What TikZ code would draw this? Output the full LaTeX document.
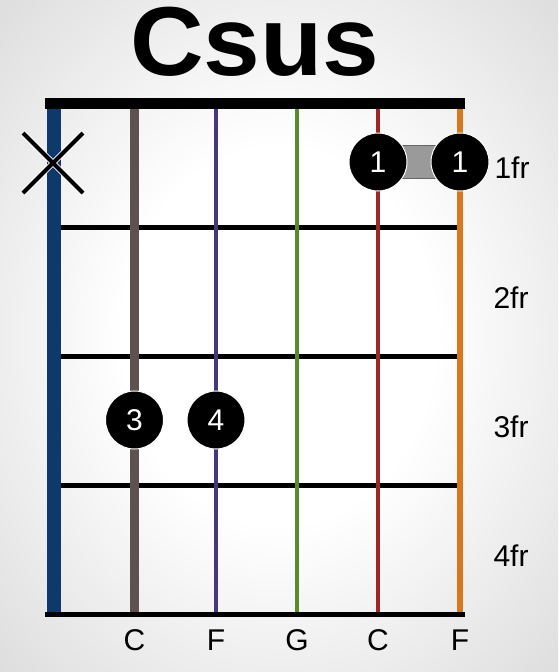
\documentclass[tikz,border=0pt]{standalone}
\usepackage{fontspec}
\setmainfont{Liberation Sans}
\usepackage{graphicx}
\definecolor{vigmid}{gray}{0.78}
\definecolor{vigout}{gray}{0.54}
\pgfdeclareradialshading{vig}{\pgfpoint{0bp}{0bp}}{color(0bp)=(white); color(14bp)=(white); color(50bp)=(vigmid); color(70.8bp)=(vigout)}
\definecolor{sblue}{HTML}{0D3A6B}
\definecolor{sgray}{HTML}{5E5250}
\definecolor{spurple}{HTML}{46387A}
\definecolor{sgreen}{HTML}{5B8A2B}
\definecolor{sred}{HTML}{A02525}
\definecolor{sorange}{HTML}{D8781A}
\definecolor{barregray}{HTML}{9A9A9A}
\tikzset{
  fretline/.style={line width=5pt, black},
  strline/.style={line cap=butt},
  finger/.style={circle, fill=black, draw=white, line width=1pt, minimum size=58pt, inner sep=0pt, text=white, font=\fontsize{30}{30}\selectfont},
  lbl/.style={inner sep=0pt, font=\fontsize{30}{30}\selectfont, text=black},
}
\begin{document}
\begin{tikzpicture}[x=1pt,y=-1pt]
\useasboundingbox (0,0) rectangle (558,672);
\shade[shading=vig] (0,0) rectangle (558,672);
% title
\node[inner sep=0pt] (title) at (255,41.5) {\scalebox{1.04}[1]{\fontsize{98}{98}\selectfont\bfseries Csus}};
% fret lines
\foreach \y [count=\i] in {227.7,356,485.6} {
  \draw[fretline] (60,\y) -- (460,\y);
}
% nut and bottom
\fill[black] (45,98) rectangle (465,108.5);
\fill[black] (45,611.5) rectangle (465,616.5);
% strings
\draw[strline, sblue, line width=14pt] (53.5,108.5) -- (53.5,611.5);
\draw[strline, sgray, line width=9pt] (134.5,108.5) -- (134.5,611.5);
\draw[strline, spurple, line width=4pt] (216,108.5) -- (216,611.5);
\draw[strline, sgreen, line width=4pt] (297,108.5) -- (297,611.5);
\draw[strline, sred, line width=4pt] (378,108.5) -- (378,611.5);
\draw[strline, sorange, line width=6pt] (460,108.5) -- (460,611.5);
% muted marker
\coordinate (xm) at (53,163);
\draw[white, line width=6pt] ([shift={(-30,-30)}]xm) -- ([shift={(30,30)}]xm) ([shift={(-30,30)}]xm) -- ([shift={(30,-30)}]xm);
\draw[black, line width=4pt] ([shift={(-30,-30)}]xm) -- ([shift={(30,30)}]xm) ([shift={(-30,30)}]xm) -- ([shift={(30,-30)}]xm);
% barre
\fill[barregray, draw=black!60, line width=0.8pt] (378,145.5) rectangle (460,178.5);
% fingers
\node[finger] (f1a) at (378,162) {1};
\node[finger] (f1b) at (460,162) {1};
\node[finger] (f3) at (134.5,420) {3};
\node[finger] (f4) at (216,420) {4};
% fret labels
\node[lbl] (fr1) at (512,168) {1fr};
\node[lbl] (fr2) at (511,298) {2fr};
\node[lbl] (fr3) at (511,427) {3fr};
\node[lbl] (fr4) at (511,556) {4fr};
% note labels
\node[lbl] (n1) at (134.5,640) {C};
\node[lbl] (n2) at (216,640) {F};
\node[lbl] (n3) at (297,640) {G};
\node[lbl] (n4) at (378,640) {C};
\node[lbl] (n5) at (460,640) {F};
\end{tikzpicture}
\end{document}
